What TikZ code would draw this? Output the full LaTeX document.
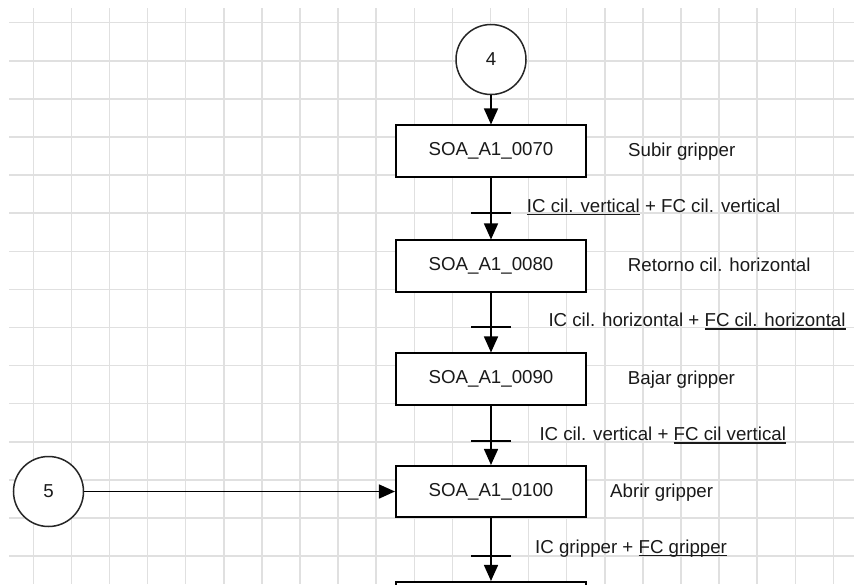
\documentclass[tikz,border=0pt]{standalone}
\usepackage{fontspec}
\setmainfont{Liberation Sans}
\usetikzlibrary{arrows.meta}
\definecolor{gridc}{HTML}{E0E0E0}
\definecolor{txt}{HTML}{1A1A1A}
\newsavebox\ulbox
\newcommand\myul[1]{\sbox\ulbox{#1}\rlap{\rule[-2.8pt]{\wd\ulbox}{1.3pt}}\usebox\ulbox}
\tikzset{
  gridline/.style={draw=gridc, line width=1.5pt},
  stepbox/.style={draw, fill=white, line width=1.6pt, minimum width=190.5pt, minimum height=51.5pt, inner sep=0pt, font=\fontsize{18.7}{22}\selectfont, text=txt},
  connc/.style={draw=black!85, fill=white, circle, minimum size=70pt, inner sep=0pt, line width=1.5pt, font=\fontsize{18.7}{22}\selectfont, text=txt},
  lbl/.style={anchor=base west, inner sep=0pt, font=\fontsize{18.7}{22}\selectfont, text=txt},
  arr/.style={line width=1.6pt, -{Triangle[width=14pt,length=16pt]}},
  trbar/.style={line width=1.6pt}
}
\begin{document}
\begin{tikzpicture}[x=1pt,y=-1pt]
\useasboundingbox (0,0) rectangle (854,584);
\clip (0,0) rectangle (854,584);
\fill[white] (0,0) rectangle (854,584);
% grid
\foreach \i in {0,...,21} \draw[gridline] ({33.3+38.1*\i},8) -- ({33.3+38.1*\i},584);
\foreach \j in {0,...,14} \draw[gridline] (9,{22.7+38.1*\j}) -- (854,{22.7+38.1*\j});
% nodes
\node[connc] (n4) at (491,59.5) {4};
\node[connc] (n5) at (48.5,491.5) {5};
\node[stepbox] (s70) at (491,151) {SOA\_A1\_0070};
\node[stepbox] (s80) at (491,266) {SOA\_A1\_0080};
\node[stepbox] (s90) at (491,379) {SOA\_A1\_0090};
\node[stepbox] (s100) at (491,491.5) {SOA\_A1\_0100};
\node[stepbox] (s110) at (491,607.5) {};
% transition coordinates
\coordinate (t1) at (491,212.7);
\coordinate (t2) at (491,326.7);
\coordinate (t3) at (491,441.2);
\coordinate (t4) at (491,555.7);
% connectors
\draw[arr] (n4.south) -- (s70.north);
\draw[arr] (s70.south) -- (s80.north);
\draw[arr] (s80.south) -- (s90.north);
\draw[arr] (s90.south) -- (s100.north);
\draw[arr] (s100.south) -- (s110.north);
\draw[arr] (n5.east) -- (s100.west);
% transition bars
\foreach \t in {t1,t2,t3,t4} \draw[trbar] ([xshift=-20pt]\t) -- ([xshift=20pt]\t);
% labels
\node[lbl] (a70) at (628,156) {Subir gripper};
\node[lbl] (a80) at (627.7,271) {Retorno cil. horizontal};
\node[lbl] (a90) at (627.7,384.5) {Bajar gripper};
\node[lbl] (a100) at (610,497) {Abrir gripper};
\node[lbl] (c1) at (526.7,212.3) {\myul{IC cil. vertical} + FC cil. vertical};
\node[lbl] (c2) at (548.3,326.7) {IC cil. horizontal + \myul{FC cil. horizontal}};
\node[lbl] (c3) at (539.3,440.7) {IC cil. vertical + \myul{FC cil vertical}};
\node[lbl] (c4) at (535,553.3) {IC gripper + \myul{FC gripper}};
\end{tikzpicture}
\end{document}
